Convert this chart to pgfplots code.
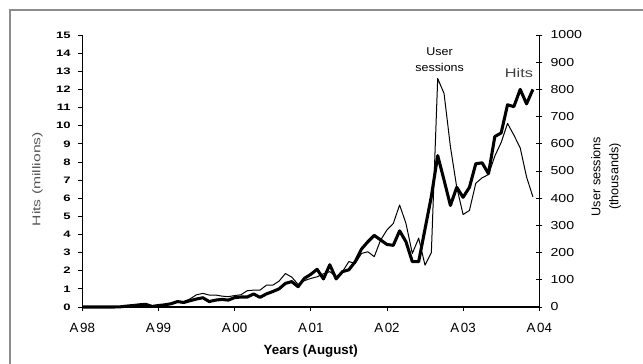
\documentclass[border=0pt]{standalone}
\usepackage{pgfplots}
\usepackage{pgfplotstable}
\pgfplotsset{compat=1.18}
\usepackage{fontspec}
\setmainfont{Liberation Sans}
\newfontfamily\fA[FakeStretch=1.4]{Liberation Sans}
\newfontfamily\fB[FakeStretch=1.22]{Liberation Sans}
\newfontfamily\fC[FakeStretch=1.1]{Liberation Sans}
\newfontfamily\fD[FakeStretch=1.3]{Liberation Sans}
\definecolor{framegray}{HTML}{8C8C8C}
\definecolor{labgray}{HTML}{555555}
\definecolor{hitsgray}{HTML}{404040}

\pgfplotstableread{
m hits sess
0 0 0
1 0 0
2 0 0
3 0 0
4 0 0
5 0 0
6 0.01 1
7 0.05 3
8 0.08 6
9 0.12 8
10 0.15 10
11 0.03 3
12 0.08 6
13 0.12 9
14 0.18 13
15 0.3 20
16 0.25 20
17 0.35 30
18 0.44 45
19 0.51 50
20 0.3 44
21 0.38 44
22 0.42 40
23 0.38 38
24 0.52 42
25 0.55 45
26 0.55 60
27 0.72 62
28 0.53 62
29 0.72 80
30 0.85 80
31 1.0 95
32 1.3 123
33 1.4 110
34 1.12 83
35 1.58 97
36 1.8 105
37 2.08 111
38 1.55 122
39 2.33 130
40 1.55 111
41 1.95 130
42 2.05 167
43 2.5 160
44 3.2 197
45 3.6 203
46 3.95 185
47 3.7 246
48 3.45 283
49 3.4 307
50 4.2 375
51 3.6 307
52 2.5 197
53 2.5 253
54 4.3 154
55 6.1 200
56 8.35 840
57 7.0 785
58 5.6 590
59 6.6 440
60 6.05 340
61 6.6 355
62 7.9 455
63 7.95 475
64 7.35 487
65 9.4 555
66 9.6 605
67 11.15 675
68 11.05 632
69 12.0 585
70 11.2 478
71 12.0 405
}\data

\begin{document}
\begin{tikzpicture}
\useasboundingbox (0,0) rectangle (482.25pt,273pt);
\clip (0,0) rectangle (482.25pt,273pt);
\fill[white] (0,0) rectangle (482.25pt,273pt);
\draw[framegray, line width=1.6pt] (7.5pt,-20pt) rectangle (500pt,265.5pt);

% right axis: user sessions
\begin{axis}[
  at={(61.7pt,42.75pt)}, anchor=south west,
  scale only axis, width=342.75pt, height=204pt,
  xmin=0, xmax=72, ymin=0, ymax=1000,
  axis x line=none,
  axis y line*=right,
  ytick={0,100,...,1000},
  tick align=center,
  major tick length=4.5pt,
  tick style={black, line width=0.6pt},
  axis line style={black, line width=0.8pt},
  /pgf/number format/assume math mode=true,
  /pgf/number format/set thousands separator={},
  yticklabel style={font=\fB\fontsize{8.7}{10}\selectfont, anchor=west, inner sep=0pt, xshift=6pt},
  ylabel={},
  clip=false,
]
\addplot[black, line width=0.75pt, line join=round] table[x=m, y=sess] {\data};
\node[font=\fontsize{9.5}{13.5}\selectfont, align=center, rotate=90, anchor=center]
  at (axis description cs:1.146,0.48) {User sessions\\(thousands)};
\end{axis}

% left axis: hits
\begin{axis}[
  at={(61.7pt,42.75pt)}, anchor=south west,
  scale only axis, width=342.75pt, height=204pt,
  xmin=0, xmax=72, ymin=0, ymax=15,
  axis x line*=bottom,
  axis y line*=left,
  xtick={0,12,...,72},
  xticklabels={A\hspace{1.2pt}98,A\hspace{1.2pt}99,A\hspace{1.2pt}00,A\hspace{1.2pt}01,A\hspace{1.2pt}02,A\hspace{1.2pt}03,A\hspace{1.2pt}04},
  ytick={0,1,...,15},
  tick align=outside,
  major tick length=3pt,
  tick style={black, line width=0.6pt},
  axis line style={black, line width=0.8pt},
  /pgf/number format/assume math mode=true,
  yticklabel style={font=\fA\bfseries\fontsize{7}{8}\selectfont, anchor=east, inner sep=0pt, xshift=-5.5pt},
  xticklabel style={font=\fontsize{10}{11}\selectfont, anchor=north, inner sep=0pt, yshift=-9pt},
  xlabel={Years (August)},
  xlabel style={font=\bfseries\fontsize{10}{11}\selectfont, at={(axis description cs:0.5,-0.176)}, anchor=base},
  ylabel={Hits (millions)},
  ylabel style={font=\fA\fontsize{8.4}{10}\selectfont, text=labgray, at={(axis description cs:-0.098,0.47)}, rotate=0, anchor=center},
  clip=false,
]
\addplot[black, line width=2.3pt, line join=round] table[x=m, y=hits] {\data};
\node[font=\fC\fontsize{8.5}{12}\selectfont, align=center, anchor=center] at (axis cs:56.3,13.65) {User\\sessions};
\node[font=\fD\fontsize{9.4}{11}\selectfont, text=hitsgray, anchor=center] at (axis cs:68.8,12.9) {Hits};
\end{axis}
\end{tikzpicture}
\end{document}
